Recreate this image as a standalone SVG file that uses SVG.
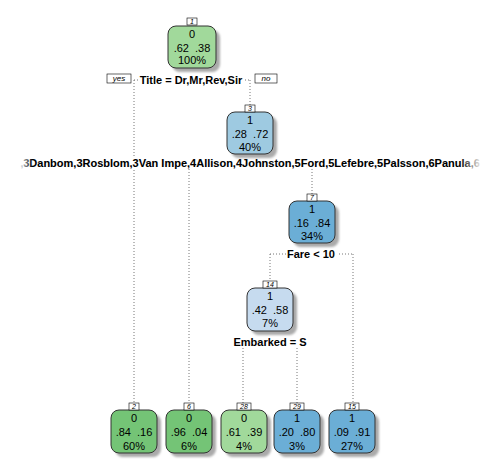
<svg xmlns="http://www.w3.org/2000/svg" width="500" height="470" viewBox="0 0 500 470">
<style>
.box{stroke:#333;stroke-width:1}
.sh{fill:#aaa;filter:url(#blur)}
.t{font-family:"Liberation Sans",Arial,sans-serif;font-size:11px;fill:#000;text-anchor:middle}
.s{font-family:"Liberation Sans",Arial,sans-serif;font-size:11px;font-weight:bold;fill:#000;text-anchor:middle}
.tag{fill:#fff;stroke:#000;stroke-width:0.6}
.tn{font-family:"Liberation Sans",Arial,sans-serif;font-size:7px;font-style:italic;fill:#000;text-anchor:middle}
.yn{font-family:"Liberation Sans",Arial,sans-serif;font-size:8px;font-style:italic;fill:#000;text-anchor:middle}
.ln{stroke:#777;stroke-width:1;stroke-dasharray:1 2;fill:none}
.g1{fill:#a1d99b}.g2{fill:#74c476}.b1{fill:#c6dbef}.b2{fill:#9ecae1}.b3{fill:#6baed6}
</style>
<defs>
<filter id="blur" x="-20%" y="-20%" width="140%" height="140%"><feGaussianBlur stdDeviation="1.2"/></filter>
<linearGradient id="fade" gradientUnits="userSpaceOnUse" x1="0" y1="0" x2="500" y2="0">
<stop offset="0.04" stop-color="#f0f0f0"/>
<stop offset="0.065" stop-color="#000"/>
<stop offset="0.92" stop-color="#000"/>
<stop offset="0.96" stop-color="#e8e8e8"/>
</linearGradient>
</defs>
<rect width="500" height="470" fill="#fff"/>
<g id="connectors">
<path class="ln" d="M134 80H250M134 80V403M250 80V105"/>
<path class="ln" d="M189 163H312M189 163V403M312 163V194"/>
<path class="ln" d="M270 254H353M270 254V281M353 254V403"/>
<path class="ln" d="M243 342H297M243 342V403M297 342V403"/>
</g>
<g id="split-labels">
<rect x="138" y="74" width="107" height="12" fill="#fff"/>
<text class="s" x="191" y="84">Title = Dr,Mr,Rev,Sir</text>
<rect x="107" y="74" width="24" height="9" class="tag"/>
<text class="yn" x="119" y="81">yes</text>
<rect x="255" y="74" width="22" height="9" class="tag"/>
<text class="yn" x="266" y="81">no</text>
<rect x="14" y="157" width="472" height="12" fill="#fff"/>
<text class="s" x="250" y="167" style="fill:url(#fade)">,3Danbom,3Rosblom,3Van Impe,4Allison,4Johnston,5Ford,5Lefebre,5Palsson,6Panula,6</text>
<rect x="286" y="248" width="51" height="12" fill="#fff"/>
<text class="s" x="311" y="258">Fare &lt; 10</text>
<rect x="232" y="336" width="77" height="12" fill="#fff"/>
<text class="s" x="270" y="346">Embarked = S</text>
</g>
<g id="node1">
<rect class="sh" x="172" y="30" width="48" height="42" rx="8"/>
<rect class="box g1" x="168" y="26" width="48" height="42" rx="8"/>
<text class="t" x="192" y="38">0</text>
<text class="t" x="192" y="52" xml:space="preserve">.62  .38</text>
<text class="t" x="192" y="64">100%</text>
<rect class="tag" x="187" y="18" width="10" height="7"/>
<text class="tn" x="192" y="24">1</text>
</g>
<g id="node3">
<rect class="sh" x="231" y="116" width="46" height="42" rx="8"/>
<rect class="box b2" x="227" y="112" width="46" height="42" rx="8"/>
<text class="t" x="250" y="124">1</text>
<text class="t" x="250" y="138" xml:space="preserve">.28  .72</text>
<text class="t" x="250" y="151">40%</text>
<rect class="tag" x="245" y="105" width="10" height="7"/>
<text class="tn" x="250" y="111">3</text>
</g>
<g id="node7">
<rect class="sh" x="293" y="205" width="46" height="42" rx="8"/>
<rect class="box b3" x="289" y="201" width="46" height="42" rx="8"/>
<text class="t" x="312" y="213">1</text>
<text class="t" x="312" y="227" xml:space="preserve">.16  .84</text>
<text class="t" x="312" y="240">34%</text>
<rect class="tag" x="307" y="194" width="10" height="7"/>
<text class="tn" x="312" y="200">7</text>
</g>
<g id="node14">
<rect class="sh" x="251" y="292" width="46" height="43" rx="8"/>
<rect class="box b1" x="247" y="288" width="46" height="43" rx="8"/>
<text class="t" x="270" y="300">1</text>
<text class="t" x="270" y="314" xml:space="preserve">.42  .58</text>
<text class="t" x="270" y="327">7%</text>
<rect class="tag" x="263" y="281" width="14" height="7"/>
<text class="tn" x="270" y="287">14</text>
</g>
<g id="node2">
<rect class="sh" x="115" y="414" width="46" height="43" rx="8"/>
<rect class="box g2" x="111" y="410" width="46" height="43" rx="8"/>
<text class="t" x="134" y="422">0</text>
<text class="t" x="134" y="436" xml:space="preserve">.84  .16</text>
<text class="t" x="134" y="450">60%</text>
<rect class="tag" x="129" y="403" width="10" height="7"/>
<text class="tn" x="134" y="409">2</text>
</g>
<g id="node6">
<rect class="sh" x="170" y="414" width="46" height="43" rx="8"/>
<rect class="box g2" x="166" y="410" width="46" height="43" rx="8"/>
<text class="t" x="189" y="422">0</text>
<text class="t" x="189" y="436" xml:space="preserve">.96  .04</text>
<text class="t" x="189" y="450">6%</text>
<rect class="tag" x="184" y="403" width="10" height="7"/>
<text class="tn" x="189" y="409">6</text>
</g>
<g id="node28">
<rect class="sh" x="225" y="414" width="46" height="43" rx="8"/>
<rect class="box g1" x="221" y="410" width="46" height="43" rx="8"/>
<text class="t" x="244" y="422">0</text>
<text class="t" x="244" y="436" xml:space="preserve">.61  .39</text>
<text class="t" x="244" y="450">4%</text>
<rect class="tag" x="237" y="403" width="14" height="7"/>
<text class="tn" x="244" y="409">28</text>
</g>
<g id="node29">
<rect class="sh" x="278" y="414" width="46" height="43" rx="8"/>
<rect class="box b3" x="274" y="410" width="46" height="43" rx="8"/>
<text class="t" x="297" y="422">1</text>
<text class="t" x="297" y="436" xml:space="preserve">.20  .80</text>
<text class="t" x="297" y="450">3%</text>
<rect class="tag" x="290" y="403" width="14" height="7"/>
<text class="tn" x="297" y="409">29</text>
</g>
<g id="node15">
<rect class="sh" x="333" y="414" width="46" height="43" rx="8"/>
<rect class="box b3" x="329" y="410" width="46" height="43" rx="8"/>
<text class="t" x="352" y="422">1</text>
<text class="t" x="352" y="436" xml:space="preserve">.09  .91</text>
<text class="t" x="352" y="450">27%</text>
<rect class="tag" x="345" y="403" width="14" height="7"/>
<text class="tn" x="352" y="409">15</text>
</g>
</svg>
